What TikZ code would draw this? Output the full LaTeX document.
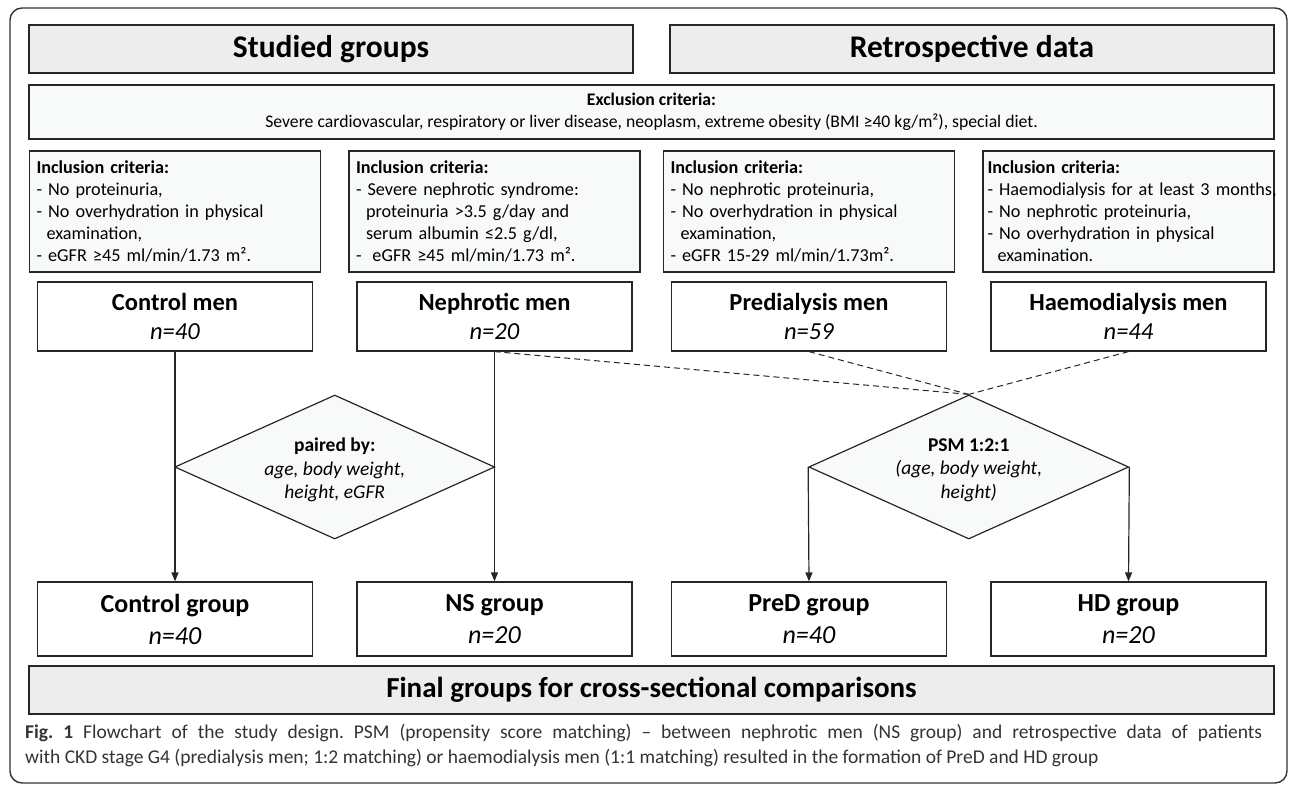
\documentclass[tikz,border=0pt]{standalone}
\usepackage{fontspec}
\setmainfont{Carlito}
\usetikzlibrary{shapes.geometric,arrows.meta}
\definecolor{linec}{HTML}{262626}
\definecolor{grayfill}{HTML}{EDEDED}
\definecolor{lightfill}{HTML}{F7FAF9}
\frenchspacing
\begin{document}
\begin{tikzpicture}[x=1pt,y=-1pt,
  hdr/.style={draw=linec, line width=1.2pt, fill=grayfill, inner sep=0pt,
    font=\fontsize{31.5}{34}\selectfont\bfseries},
  excl/.style={draw=linec, line width=1.2pt, fill=lightfill, inner sep=0pt,
    minimum width=1245, minimum height=54, align=center,
    font=\fontsize{17.7}{21.5}\selectfont},
  incl/.style={draw=linec, line width=1.2pt, fill=lightfill, inner xsep=7pt, inner ysep=0pt,
    minimum width=291, minimum height=121, text width=277, align=left,
    font=\fontsize{18.2}{22}\selectfont},
  grp/.style={draw=linec, line width=1.2pt, fill=white, inner sep=0pt,
    minimum width=275, align=center},
  men/.style={grp, minimum height=69, font=\fontsize{24.5}{29}\selectfont},
  fin/.style={grp, minimum height=74, font=\fontsize{26}{32}\selectfont},
  dia/.style={draw=linec, line width=1.2pt, fill=lightfill, diamond, inner sep=0pt,
    minimum width=320, minimum height=144},
  diatext/.style={align=center, inner sep=0pt, font=\fontsize{19.5}{23.5}\selectfont},
  arr/.style={draw=linec, line width=1.2pt, -{Triangle[length=9pt,width=7pt]}},
  dsh/.style={draw=linec, line width=1pt, dash pattern=on 6pt off 4pt},
  captext/.style={anchor=west, inner sep=0pt, text=black!80, font=\fontsize{19.5}{25}\selectfont}
]
\useasboundingbox (0,0) rectangle (1290,785);
\draw[draw=black!80, line width=1.4pt, rounded corners=12pt] (10,8) rectangle (1287,783);

% headers
\node[hdr, minimum width=604, minimum height=48] (sg) at (331,49) {Studied groups};
\node[hdr, minimum width=604, minimum height=48] (rd) at (972,49) {Retrospective data};
\node[excl] (ex) at (651.5,112) {\textbf{Exclusion criteria:}\\Severe cardiovascular, respiratory or liver disease, neoplasm, extreme obesity (BMI ≥40 kg/m²), special diet.};

% inclusion criteria
\node[incl] (i1) at (175,211.5) {\textbf{Inclusion criteria:}\\- No proteinuria,\\- No overhydration in physical\\\hspace*{0.55em}examination,\\- eGFR ≥45 ml/min/1.73 m².};
\node[incl] (i2) at (494.5,211.5) {\textbf{Inclusion criteria:}\\- Severe nephrotic syndrome:\\\hspace*{0.55em}proteinuria >3.5 g/day and\\\hspace*{0.55em}serum albumin ≤2.5 g/dl,\\-\hspace*{0.6em}eGFR ≥45 ml/min/1.73 m².};
\node[incl] (i3) at (809,211.5) {\textbf{Inclusion criteria:}\\- No nephrotic proteinuria,\\- No overhydration in physical\\\hspace*{0.55em}examination,\\- eGFR 15-29 ml/min/1.73m².};
\node[incl, inner xsep=4.5pt, text width=282] (i4) at (1128.5,211.5) {\textbf{Inclusion criteria:}\\\mbox{- Haemodialysis for at least 3 months,}\\- No nephrotic proteinuria,\\- No overhydration in physical\\\hspace*{0.55em}examination.};

% men boxes
\node[men] (cm) at (175,316.5) {\textbf{Control men}\\\textit{n=40}};
\node[men] (nm) at (494.5,316.5) {\textbf{Nephrotic men}\\\textit{n=20}};
\node[men] (pm) at (809,316.5) {\textbf{Predialysis men}\\\textit{n=59}};
\node[men] (hm) at (1128.5,316.5) {\textbf{Haemodialysis men}\\\textit{n=44}};

% diamonds
\node[dia] (d1) at (334.75,467) {};
\node[diatext] (t1) at (334.75,470) {\textbf{paired by:}\\\textit{age, body weight,}\\\textit{height, eGFR}};
\node[dia] (d2) at (968.75,467) {};
\node[diatext] (t2) at (968.75,470) {\textbf{PSM 1:2:1}\\\textit{(age, body weight,}\\\textit{height)}};

% final groups
\node[fin] (cg) at (175,619) {\textbf{Control group}\\\textit{n=40}};
\node[fin] (ng) at (494.5,619) {\textbf{NS group}\\\textit{n=20}};
\node[fin] (pg) at (809,619) {\textbf{PreD group}\\\textit{n=40}};
\node[fin] (hg) at (1128.5,619) {\textbf{HD group}\\\textit{n=20}};

\node[hdr, minimum width=1245, minimum height=48, font=\fontsize{29}{32}\selectfont\bfseries] (fg) at (651.5,690) {Final groups for cross-sectional comparisons};

% connectors
\draw[arr] (cm.south) -- (cg.north);
\draw[arr] (nm.south) -- (ng.north);
\draw[arr] (d2.west) -- (pg.north);
\draw[arr] (d2.east) -- (hg.north);
\draw[dsh] (nm.south) -- (d2.north);
\draw[dsh] (pm.south) -- (d2.north);
\draw[dsh] (hm.south) -- (d2.north);

% caption
\node[captext] (c1) at (25,733) {\makebox[1237pt][s]{\textbf{Fig. 1} Flowchart of the study design. PSM (propensity score matching) – between nephrotic men (NS group) and retrospective data of patients}};
\node[captext] (c2) at (25,758) {with CKD stage G4 (predialysis men; 1:2 matching) or haemodialysis men (1:1 matching) resulted in the formation of PreD and HD group};
\end{tikzpicture}
\end{document}
